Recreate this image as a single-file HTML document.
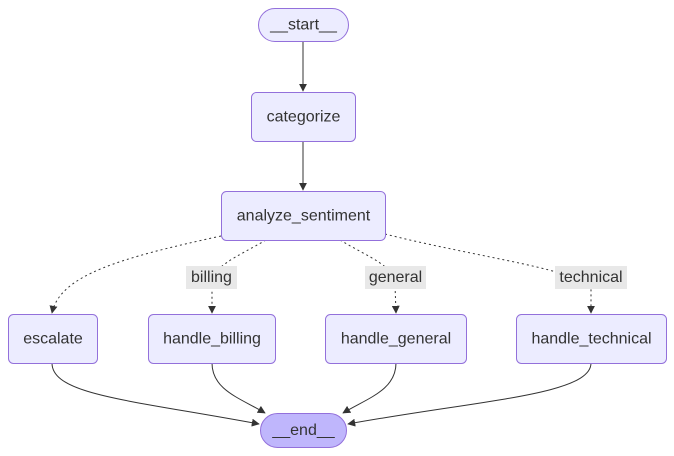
<!DOCTYPE html>
<html><head><meta charset="utf-8"><style>
html,body{margin:0;padding:0;background:#fff;}
svg{display:block;font-family:"Liberation Sans",Arial,sans-serif;}
.n{fill:#ECECFF;stroke:#9370DB;stroke-width:1;}
.t{font-size:16px;fill:#333;text-anchor:middle;dominant-baseline:central;}
.e{fill:none;stroke:#333;stroke-width:1;}
.d{stroke-dasharray:2,3;}
.lb{fill:#e8e8e8;}
</style></head><body>
<svg width="674" height="456" viewBox="0 0 674 456">
<defs><marker id="a" viewBox="0 0 10 10" refX="9" refY="5" markerWidth="8" markerHeight="8" orient="auto"><path d="M0,0L10,5L0,10z" fill="#333"/></marker></defs>
<!-- edges -->
<path class="e" d="M303,42L303,91" marker-end="url(#a)"/>
<path class="e" d="M303,141L303,190" marker-end="url(#a)"/>
<path class="e d" d="M221,236C120,258 60,275 52,313" marker-end="url(#a)"/>
<path class="e d" d="M266,240C235,258 212,266 212,285L212,313" marker-end="url(#a)"/>
<path class="e d" d="M340,240C370,258 395,266 395,285L396,313" marker-end="url(#a)"/>
<path class="e d" d="M385,234C480,258 585,270 591,290L591,313" marker-end="url(#a)"/>
<path class="e" d="M52,363C52,395 130,400 259,424" marker-end="url(#a)"/>
<path class="e" d="M212,363C212,390 240,398 265,413" marker-end="url(#a)"/>
<path class="e" d="M396,363C396,390 368,398 343,413" marker-end="url(#a)"/>
<path class="e" d="M591,363C591,395 480,400 348,424" marker-end="url(#a)"/>
<!-- labels -->
<rect class="lb" x="186" y="266" width="51" height="23"/><text class="t" x="211.5" y="277.5">billing</text>
<rect class="lb" x="365" y="266" width="61" height="23"/><text class="t" x="395.5" y="277.5">general</text>
<rect class="lb" x="555" y="266" width="72" height="23"/><text class="t" x="591" y="277.5">technical</text>
<!-- nodes -->
<rect class="n" x="258.5" y="8.5" width="90" height="33" rx="16.5"/><text class="t" x="303.5" y="25">__start__</text>
<rect class="n" x="251.5" y="92.5" width="104" height="49" rx="5"/><text class="t" x="303.5" y="117">categorize</text>
<rect class="n" x="221.5" y="191.5" width="164" height="49" rx="5"/><text class="t" x="303.5" y="216">analyze_sentiment</text>
<rect class="n" x="8.5" y="314.5" width="89" height="49" rx="5"/><text class="t" x="53" y="339">escalate</text>
<rect class="n" x="148.5" y="314.5" width="127" height="49" rx="5"/><text class="t" x="212" y="339">handle_billing</text>
<rect class="n" x="325.5" y="314.5" width="141" height="49" rx="5"/><text class="t" x="396" y="339">handle_general</text>
<rect class="n" x="516.5" y="314.5" width="150" height="49" rx="5"/><text class="t" x="591.5" y="339">handle_technical</text>
<rect x="260.5" y="413.5" width="86" height="34" rx="17" fill="#BFB6FC" stroke="#9370DB"/><text class="t" x="303.5" y="430.5">__end__</text>
</svg>
</body></html>
